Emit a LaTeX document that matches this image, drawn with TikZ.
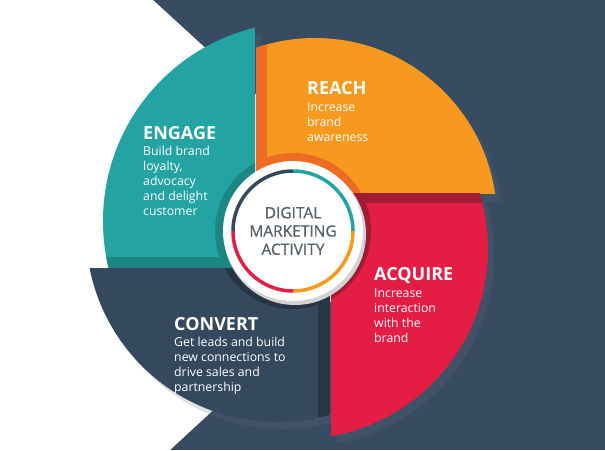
\documentclass[tikz,border=0pt]{standalone}
\usepackage{fontspec}
\setmainfont{Open Sans}
\newfontfamily\hubfont{Open Sans}[FakeBold=0.7]
\usepackage{tikz}
\usetikzlibrary{positioning}
\usepackage{xcolor}

\definecolor{bgnavy}{HTML}{374B61}
\definecolor{segnavy}{HTML}{34485E}
\definecolor{darknavy}{HTML}{273647}
\definecolor{tealc}{HTML}{23A3A2}
\definecolor{darkteal}{HTML}{1C8683}
\definecolor{orangec}{HTML}{F7991E}
\definecolor{darkorange}{HTML}{EE6B24}
\definecolor{redc}{HTML}{E31D43}
\definecolor{darkred}{HTML}{A21B33}
\definecolor{shadowc}{HTML}{61707F}
\definecolor{textgray}{HTML}{58626C}

\begin{document}
\begin{tikzpicture}[x=1pt,y=-1pt,
    title/.style={font=\fontsize{18}{20}\selectfont\bfseries, text=white, anchor=base west, inner sep=0},
    body/.style={font=\fontsize{12.3}{15}\selectfont, text=white, align=left, anchor=base west, inner sep=0},
    shadow/.style={fill=shadowc, opacity=0.2},
    hub/.style={circle, fill=white, minimum size=140pt, inner sep=0, align=center, text=textgray,
        font=\hubfont\fontsize{15.5}{18.3}\selectfont}]
    \useasboundingbox (0,0) rectangle (605,450);

    % Background
    \fill[bgnavy] (0,0) rectangle (605,450);
    \fill[white] (0,0) -- (153,0) -- (406,232) -- (170,450) -- (0,450) -- cycle;

    % Shadows
    \foreach \xa/\ya/\xb/\yb/\cx/\cy/\r in {0/0/255/268/302/221/199, 256/0/605/194/315/220/182,
        331/193/605/450/298/249/190, 0/268/330/450/277/231/191}
    {
        \begin{scope}[shift={(6,7)}]
            \clip (\xa,\ya) rectangle (\xb,\yb);
            \fill[shadow] (\cx,\cy) circle[radius=\r];
        \end{scope}
    }

    % Engage
    \begin{scope}
        \clip (0,0) rectangle (255,268);
        \clip (302,221) circle[radius=199];
        \fill[tealc] (0,0) rectangle (255,268);
        \fill[darkteal] (0,257) rectangle (255,268);
        \fill[darkteal] (293,231) circle[radius=78];
    \end{scope}

    % Reach
    \begin{scope}
        \clip (256,0) rectangle (605,194);
        \clip (315,220) circle[radius=182];
        \fill[orangec] (256,0) rectangle (605,194);
        \fill[darkorange] (256,0) rectangle (267,194);
        \fill[darkorange] (293,231) circle[radius=78];
    \end{scope}

    % Acquire
    \begin{scope}
        \clip (331,193) rectangle (605,450);
        \clip (298,249) circle[radius=190];
        \fill[redc] (331,193) rectangle (605,450);
        \fill[darkred] (331,193) rectangle (605,203);
        \fill[darkred] (293,231) circle[radius=78];
    \end{scope}

    % Convert
    \begin{scope}
        \clip (0,268) rectangle (330,450);
        \clip (277,231) circle[radius=191];
        \fill[segnavy] (0,268) rectangle (330,450);
        \fill[darknavy] (318,268) rectangle (330,450);
        \fill[darknavy] (293,231) circle[radius=78];
    \end{scope}

    % Hub
    \fill[gray!35] (295,234) circle[radius=71];
    \node[hub] (hub) at (293,231) {DIGITAL\\MARKETING\\ACTIVITY};
    \draw[line width=3.5pt, segnavy] ([shift={(180:60)}]hub.center) arc[start angle=180, end angle=270, radius=60];
    \draw[line width=3.5pt, tealc] ([shift={(270:60)}]hub.center) arc[start angle=270, end angle=360, radius=60];
    \draw[line width=3.5pt, orangec] ([shift={(0:60)}]hub.center) arc[start angle=0, end angle=90, radius=60];
    \draw[line width=3.5pt, redc] ([shift={(90:60)}]hub.center) arc[start angle=90, end angle=180, radius=60];

    % Labels (body anchors sit on the last line)
    \node[title] (engage) at (143,139) {ENGAGE};
    \node[body] (engagetxt) at (143,215.7) {Build brand\\loyalty,\\advocacy\\and delight\\customer};
    \node[title] (reach) at (307,94) {REACH};
    \node[body] (reachtxt) at (307,141.7) {Increase\\brand\\awareness};
    \node[title] (acquire) at (374,280.7) {ACQUIRE};
    \node[body] (acquiretxt) at (374,342.7) {Increase\\interaction\\with the\\brand};
    \node[title] (convert) at (174,330) {CONVERT};
    \node[body] (converttxt) at (174,391.7) {Get leads and build\\new connections to\\drive sales and\\partnership};
\end{tikzpicture}
\end{document}
